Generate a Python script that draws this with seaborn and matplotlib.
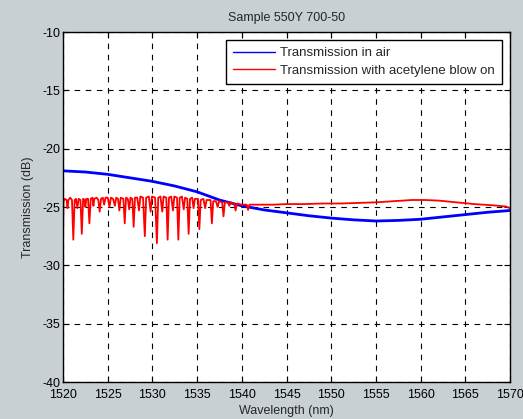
import pandas as pd
import seaborn as sns
import matplotlib.pyplot as plt

# Transmission in air
air_wl = [1520, 1522.5, 1525, 1527.5, 1530, 1532.5, 1535, 1537.5, 1540, 1542.5,
          1545, 1547.5, 1550, 1552.5, 1555, 1557.5, 1560, 1562.5, 1565, 1567.5, 1570]
air_db = [-21.9, -22.0, -22.2, -22.5, -22.8, -23.2, -23.7, -24.4, -24.9, -25.25,
          -25.5, -25.75, -25.95, -26.1, -26.2, -26.15, -26.05, -25.85, -25.65, -25.45, -25.3]

# Transmission with acetylene blow on (absorption dips at the short end)
gas_wl = [1520.00, 1520.05, 1520.20, 1520.40, 1520.50, 1520.60, 1520.80, 1521.00, 1521.15, 1521.30,
          1521.45, 1521.60, 1521.75, 1521.95, 1522.10, 1522.25, 1522.40, 1522.50, 1522.60, 1522.80,
          1522.95, 1523.10, 1523.30, 1523.40, 1523.50, 1523.75, 1523.95, 1524.10, 1524.25, 1524.45,
          1524.60, 1524.75, 1525.00, 1525.20, 1525.35, 1525.60, 1525.80, 1525.95, 1526.15, 1526.30,
          1526.45, 1526.75, 1526.90, 1527.05, 1527.25, 1527.40, 1527.55, 1527.75, 1527.90, 1528.05,
          1528.30, 1528.50, 1528.65, 1528.95, 1529.15, 1529.30, 1529.60, 1529.80, 1529.95, 1530.30,
          1530.50, 1530.65, 1530.90, 1531.10, 1531.25, 1531.55, 1531.70, 1531.85, 1532.10, 1532.30,
          1532.45, 1532.75, 1532.90, 1533.05, 1533.30, 1533.50, 1533.65, 1533.90, 1534.05, 1534.20,
          1534.45, 1534.60, 1534.75, 1535.10, 1535.25, 1535.40, 1535.70, 1535.90, 1536.05, 1536.50,
          1536.65, 1536.80, 1537.10, 1537.30, 1537.45, 1537.80, 1537.95, 1538.10, 1538.45, 1538.60,
          1538.75, 1539.15, 1539.30, 1539.45, 1540.00, 1540.55, 1540.70, 1540.85, 1541.50, 1542.50,
          1543.50, 1545.00, 1547.00, 1549.00, 1551.00, 1553.00, 1555.00, 1557.00, 1559.00, 1560.50,
          1562.00, 1564.00, 1566.00, 1568.00, 1569.50, 1570.00]
gas_db = [-28.0, -24.5, -24.3, -24.4, -25.1, -24.4, -24.2, -24.4, -27.8, -24.4,
          -24.3, -25.1, -24.3, -24.4, -27.3, -24.3, -24.4, -25.0, -24.3, -24.3,
          -26.4, -24.3, -24.2, -24.9, -24.3, -24.2, -24.4, -25.4, -24.3, -24.2,
          -24.8, -24.2, -24.2, -25.0, -24.2, -24.3, -24.9, -24.2, -24.3, -25.3,
          -24.2, -24.3, -26.4, -24.2, -24.3, -25.2, -24.2, -24.3, -26.7, -24.2,
          -24.2, -25.3, -24.1, -24.2, -27.5, -24.2, -24.1, -25.4, -24.1, -24.2,
          -28.1, -24.2, -24.1, -25.4, -24.1, -24.2, -27.8, -24.2, -24.1, -25.3,
          -24.1, -24.2, -27.8, -24.2, -24.1, -25.2, -24.2, -24.3, -27.3, -24.3,
          -24.2, -25.1, -24.3, -24.3, -26.9, -24.4, -24.3, -25.1, -24.4, -24.4,
          -26.4, -24.5, -24.5, -25.0, -24.5, -24.6, -25.8, -24.6, -24.6, -24.9,
          -24.6, -24.7, -25.3, -24.7, -24.8, -24.8, -25.25, -24.8, -24.8, -24.8,
          -24.8, -24.75, -24.75, -24.7, -24.7, -24.65, -24.6, -24.5, -24.4, -24.4,
          -24.45, -24.6, -24.75, -24.85, -24.95, -25.1]

x_ticks = list(range(1520, 1571, 5))
y_ticks = list(range(-40, -9, 5))

air = pd.DataFrame({'wl': air_wl, 'db': air_db})
gas = pd.DataFrame({'wl': gas_wl, 'db': gas_db})

sns.set_style('ticks')
plt.rcParams['font.family'] = ['Liberation Sans', 'DejaVu Sans']
plt.rcParams['axes.unicode_minus'] = False

bg = '#c8d0d4'
fig = plt.figure(figsize=(5.23, 4.19), dpi=100, facecolor=bg)
ax = fig.add_axes([0.1205, 0.0883, 0.8547, 0.8353])
ax.set_facecolor('white')

sns.lineplot(data=air, x='wl', y='db', color='blue', linewidth=2.0, sort=False,
             label='Transmission in air', ax=ax)
sns.lineplot(data=gas, x='wl', y='db', color='red', linewidth=1.3, sort=False,
             label='Transmission with acetylene blow on', ax=ax)

ax.set_xlim(1520, 1570)
ax.set_ylim(-40, -10)
ax.set_xticks(x_ticks)
ax.set_yticks(y_ticks)
ax.grid(True, color='black', linestyle=(0, (5, 5)), linewidth=0.8)
ax.tick_params(direction='in', top=True, right=True, length=4, labelsize=9,
               color='black', labelcolor='black', pad=2)
ax.tick_params(axis='x', pad=5)
for s in ax.spines.values():
    s.set_color('black')
    s.set_linewidth(1)

ax.set_title('Sample 550Y 700-50', fontsize=9, pad=8)
ax.set_xlabel('Wavelength (nm)', fontsize=9, labelpad=3)
ax.set_ylabel('Transmission (dB)', fontsize=9, labelpad=6)

leg = ax.legend(loc='upper right', fontsize=9.5, frameon=True, fancybox=False,
                framealpha=1, edgecolor='black', borderaxespad=0.6,
                handlelength=3.2, handletextpad=0.35, borderpad=0.55, labelspacing=0.4)
leg.get_frame().set_linewidth(1)
for h in leg.get_lines():
    h.set_linewidth(1)

fig.savefig('out.png', dpi=100, facecolor=bg)
